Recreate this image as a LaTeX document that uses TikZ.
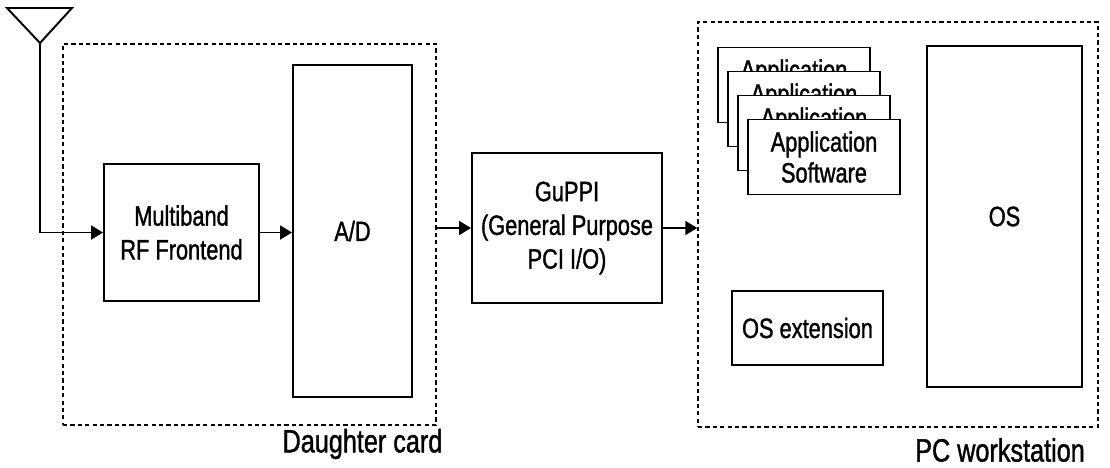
\documentclass[tikz,border=0pt]{standalone}
\usepackage{fontspec}
\setmainfont[FakeStretch=0.78,FakeBold=1.2]{Liberation Sans}
\usetikzlibrary{arrows.meta}

\tikzset{
  blk/.style={draw,line width=1.1pt,fill=white,align=center,inner sep=0pt},
  appbox/.style={blk,minimum width=3.04cm,minimum height=1.5cm,font=\fontsize{15.9}{17.6}\selectfont},
  grp/.style={draw,line width=0.8pt,dash pattern=on 2.4pt off 1.8pt,inner sep=0pt},
  grplbl/.style={inner sep=0pt,font=\fontsize{18.4}{20}\selectfont},
  sig/.style={line width=1.1pt,-{Triangle[length=0.24cm,width=0.28cm]}},
  every node/.style={font=\fontsize{15.9}{19.2}\selectfont}
}

\begin{document}
\begin{tikzpicture}
\useasboundingbox (0,0) rectangle (22.2,-9.34);

% dashed groups
\node[grp,minimum width=7.46cm,minimum height=7.62cm] (card) at (4.99,-4.69) {};
\node[grp,minimum width=8.0cm,minimum height=8.1cm] (pc) at (17.96,-4.49) {};
\node[grplbl] (cardlbl) at (7.25,-8.88) {Daughter card};
\node[grplbl] (pclbl) at (20.0,-9.0) {PC workstation};

% antenna
\draw[line width=1.1pt] (0.14,-0.16) -- (1.44,-0.16) -- (0.8,-0.86) -- cycle;
\coordinate (ant) at (0.8,-0.86);

% daughter card
\node[blk,minimum width=3.1cm,minimum height=2.74cm] (rf) at (3.63,-4.65) {Multiband\\RF Frontend};
\node[blk,minimum width=2.38cm,minimum height=6.64cm] (ad) at (7.05,-4.62) {A/D};

% bus card
\node[blk,minimum width=3.8cm,minimum height=3.0cm] (guppi) at (11.34,-4.56) {GuPPI\\(General Purpose\\PCI I/O)};

% workstation
\node[appbox] (app1) at (15.88,-1.7) {Application\\\phantom{Software}};
\node[appbox] (app2) at (16.08,-2.18) {Application\\\phantom{Software}};
\node[appbox] (app3) at (16.28,-2.66) {Application\\\phantom{Software}};
\node[appbox] (app4) at (16.48,-3.14) {Application\\Software};
\node[blk,minimum width=3.02cm,minimum height=1.48cm] (osext) at (16.15,-6.56) {OS extension};
\node[blk,minimum width=3.1cm,minimum height=6.82cm] (os) at (20.09,-4.33) {OS};

% signal path
\draw[sig] (ant) |- (rf.west);
\draw[sig] (rf.east) -- (ad.west |- rf.east);
\draw[sig] (card.east |- guppi.west) -- (guppi.west);
\draw[sig] (guppi.east) -- (pc.west |- guppi.east);
\end{tikzpicture}
\end{document}
